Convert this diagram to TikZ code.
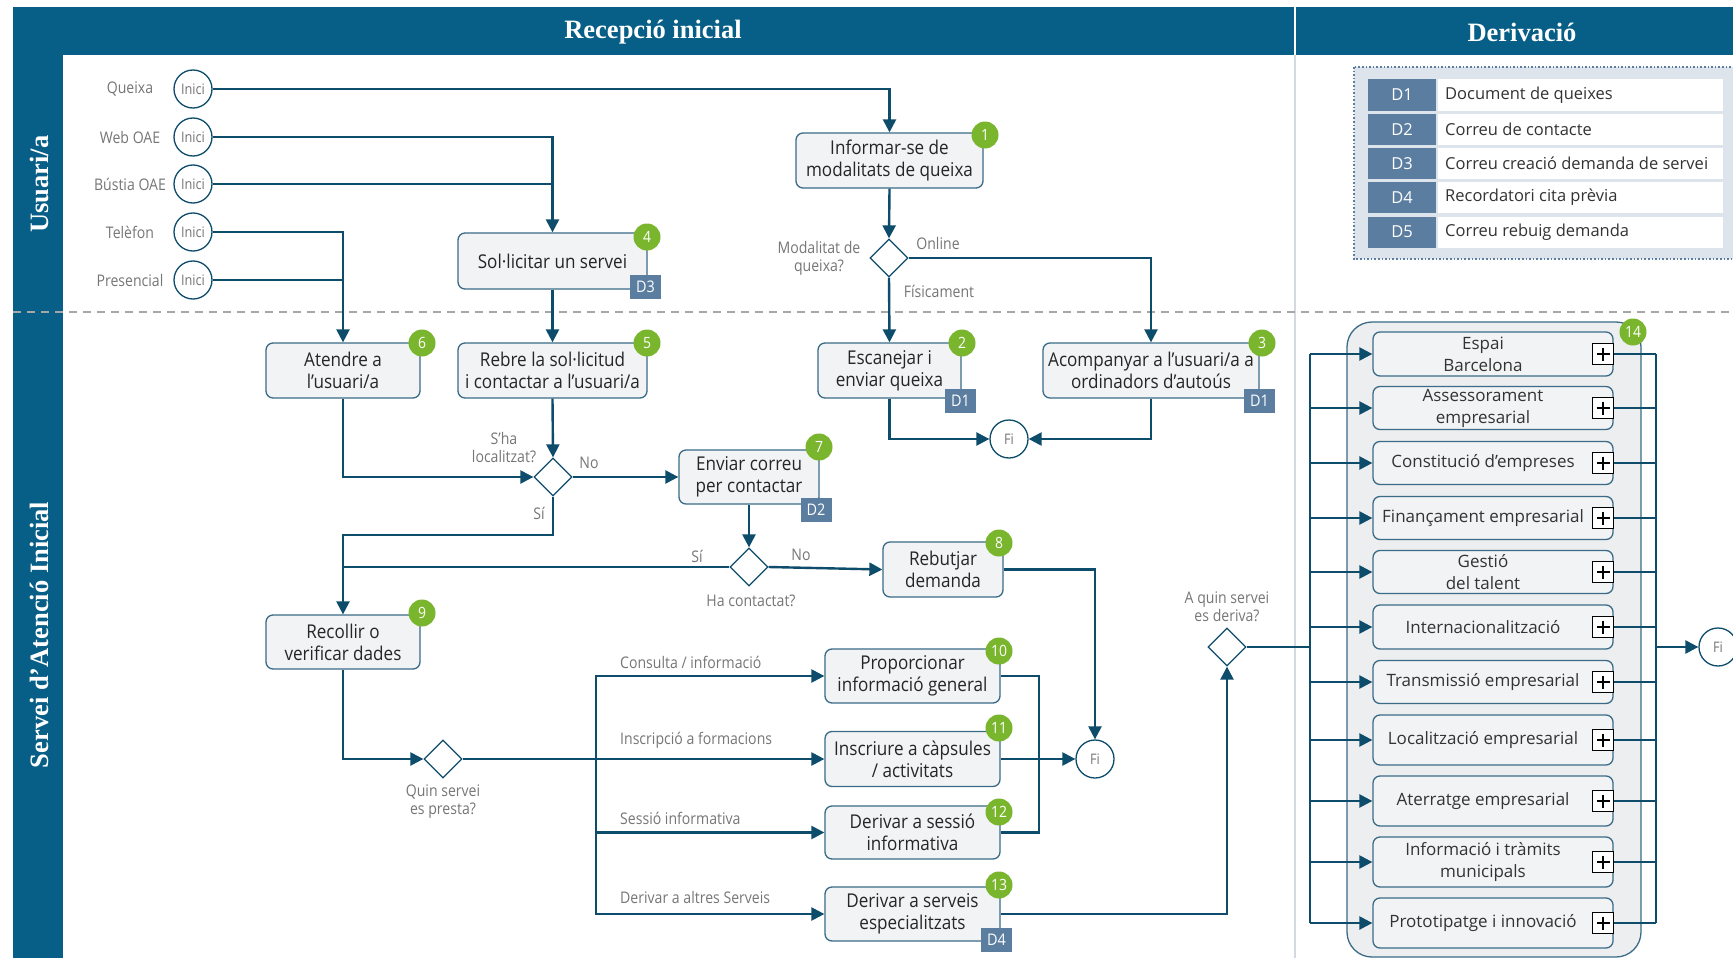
\documentclass[tikz,border=0pt]{standalone}
\usepackage{fontspec}
\setmainfont{Open Sans}
\newfontfamily\cfont[FakeStretch=0.9]{Open Sans}
\newfontfamily\lfont[FakeStretch=0.88]{Open Sans}
\newfontfamily\hfont{Liberation Serif}
\usetikzlibrary{shapes.geometric,arrows.meta,calc}
\definecolor{hdr}{HTML}{075E86}
\definecolor{ln}{HTML}{0D4C6B}
\definecolor{bxf}{HTML}{F2F3F4}
\definecolor{bxd}{HTML}{3A6B87}
\definecolor{grn}{HTML}{7AB52E}
\definecolor{dtag}{HTML}{5A7DA0}
\definecolor{lgd}{HTML}{DDE4EC}
\definecolor{gtx}{HTML}{767676}
\definecolor{grp}{HTML}{EDEEF0}
\definecolor{dv}{HTML}{D3D9DE}
\begin{document}
\begin{tikzpicture}[x=1pt,y=-1pt,
  task/.style={draw=bxd, fill=bxf, line width=1.3pt, rounded corners=7pt, align=center, inner sep=0pt, font=\cfont\fontsize{19}{22}\selectfont, text=black!85},
  sub/.style={draw=bxd, fill=bxf, line width=1.3pt, rounded corners=7pt, inner sep=0pt, minimum width=240pt},
  subtxt/.style={align=center, font=\fontsize{17}{22}\selectfont, text=black!80, inner sep=0pt},
  gate/.style={diamond, draw=ln, fill=white, line width=1.3pt, minimum width=38pt, minimum height=38pt, inner sep=0pt},
  ev/.style={circle, draw=ln, fill=white, line width=1.3pt, minimum size=38pt, inner sep=0pt, font=\lfont\fontsize{14.5}{16}\selectfont, text=gtx},
  badge/.style={circle, fill=grn, minimum size=27pt, inner sep=0pt, text=white, font=\cfont\fontsize{15.5}{15.5}\selectfont},
  dtg/.style={fill=dtag, minimum width=31pt, minimum height=24pt, inner sep=0pt, text=white, font=\cfont\fontsize{16}{16}\selectfont},
  lbl/.style={text=gtx, font=\lfont\fontsize{16}{18}\selectfont, inner sep=0pt, align=center},
  conn/.style={draw=ln, line width=2.4pt},
  arr/.style={conn, -{Triangle[length=13pt,width=13pt]}},
  hdrtxt/.style={text=white, font=\hfont\bfseries\fontsize{26.5}{26.5}\selectfont, inner sep=0pt},
  lgtxt/.style={anchor=west, text=black!80, font=\fontsize{16.5}{18}\selectfont, inner sep=0pt}
]
\fill[white] (0,0) rectangle (1733,958);
\useasboundingbox (0,0) rectangle (1733,958);
% frame
\fill[hdr] (13,7) rectangle (1733,55);
\fill[hdr] (13,7) rectangle (63,958);
\draw[white, line width=1.5pt] (1295,7) -- (1295,55);
\draw[dv, line width=1.5pt] (1295,55) -- (1295,958);
\draw[black!35, line width=1.5pt, dash pattern=on 8pt off 6pt] (13,312) -- (1733,312);
\node[hdrtxt] (h1) at (653,32) {Recepció inicial};
\node[hdrtxt] (h2) at (1522,32) {Derivació};
\node[hdrtxt, rotate=90] (l1) at (39,184) {Usuari/a};
\node[hdrtxt, rotate=90] (l2) at (39,635) {Servei d’Atenció Inicial};

% legend
\draw[dtag, fill=lgd, line width=1.6pt, dotted] (1354,67) rectangle (1750,259);
\foreach \i/\t/\y in {1/Document de queixes/95, 2/Correu de contacte/129.5, 3/Correu creació demanda de servei/163.5, 4/Recordatori cita prèvia/197.5, 5/Correu rebuig demanda/232}{
  \node[fill=dtag, minimum width=68pt, minimum height=31pt, inner sep=0pt, text=white, font=\fontsize{16.5}{18}\selectfont] (L\i) at (1402,\y) {D\i};
  \node[fill=white, minimum width=285pt, minimum height=31pt, inner sep=0pt, anchor=west] (T\i) at (1438,\y) {};
  \node[lgtxt] at (1445,\y) {\t};
}

% start events
\node[ev] (s1) at (193,89) {Inici};
\node[ev] (s2) at (193,137) {Inici};
\node[ev] (s3) at (193,184) {Inici};
\node[ev] (s4) at (193,232) {Inici};
\node[ev] (s5) at (193,280) {Inici};
\node[lbl] at (130,89) {Queixa};
\node[lbl] at (130,137) {Web OAE};
\node[lbl] at (130,184) {Bústia OAE};
\node[lbl] at (130,232) {Telèfon};
\node[lbl] at (130,280) {Presencial};

% tasks
\node[task, minimum width=187pt, minimum height=55pt] (b1) at (889.5,160.5) {Informar-se de\\modalitats de queixa};
\node[task, minimum width=189pt, minimum height=56pt] (b4) at (552.5,261) {Sol·licitar un servei};
\node[task, minimum width=154pt, minimum height=55pt] (b6) at (343,370.5) {Atendre a\\l’usuari/a};
\node[task, minimum width=189pt, minimum height=55pt] (b5) at (552.5,370.5) {Rebre la sol·licitud\\i contactar a l’usuari/a};
\node[task, minimum width=143pt, minimum height=55pt] (b2) at (889.5,370.5) {Escanejar i\\enviar queixa};
\node[task, minimum width=216pt, minimum height=55pt] (b3) at (1151,370.5) {Acompanyar a l’usuari/a a\\ordinadors d’autoús};
\node[task, minimum width=140pt, minimum height=54pt] (b7) at (749,477) {Enviar correu\\per contactar};
\node[task, minimum width=120pt, minimum height=55pt] (b8) at (943,569.5) {Rebutjar\\demanda};
\node[task, minimum width=154pt, minimum height=54pt] (b9) at (343,642) {Recollir o\\verificar dades};
\node[task, minimum width=175pt, minimum height=54pt] (b10) at (912.5,676) {Proporcionar\\informació general};
\node[task, minimum width=175pt, minimum height=55pt] (b11) at (912.5,759) {Inscriure a càpsules\\/ activitats};
\node[task, minimum width=175pt, minimum height=53pt] (b12) at (912.5,832.5) {Derivar a sessió\\informativa};
\node[task, minimum width=175pt, minimum height=54pt] (b13) at (912.5,914) {Derivar a serveis\\especialitzats};

% gateways
\node[gate] (d1) at (889,258) {};
\node[gate] (d2) at (553,477) {};
\node[gate] (d3) at (749,567) {};
\node[gate] (d4) at (443,759) {};
\node[gate] (d5) at (1227,647) {};

% end events
\node[ev] (f1) at (1009,439) {Fi};
\node[ev] (f2) at (1095,759) {Fi};
\node[ev] (f3) at (1718,647) {Fi};

% group 14
\draw[bxd, fill=grp, line width=1.3pt, rounded corners=25pt] (1347,322) rectangle (1641,957);
\foreach \n/\y/\h/\t in {g1/354/44/{Espai\\Barcelona}, g2/408/43/{Assessorament\\empresarial}, g3/463/43/{Constitució d’empreses}, g4/518/43/{Finançament empresarial}, g5/572/43/{Gestió\\del talent}, g6/627/44/{Internacionalització}, g7/682/43/{Transmissió empresarial}, g8/740/50/{Localització empresarial}, g9/801/50/{Aterratge empresarial}, g10/862/50/{Informació i tràmits\\municipals}, g11/923/50/{Prototipatge i innovació}}{
  \node[sub, minimum height=\h pt] (\n) at (1493,\y) {};
  \node[subtxt] at (1483,\y) {\t};
  \node[draw=black, line width=1.3pt, fill=white, minimum size=21pt, inner sep=0pt] (p\n) at ($(\n.east)+(-10.5,0)$) {};
  \draw[black, line width=2.6pt] ($(p\n.center)+(-6.5,0)$) -- ($(p\n.center)+(6.5,0)$);
  \draw[black, line width=2.6pt] ($(p\n.center)+(0,-6.5)$) -- ($(p\n.center)+(0,6.5)$);
}

% labels
\node[lbl] at (819,258.5) {Modalitat de\\queixa?};
\node[lbl] at (938,243) {Online};
\node[lbl] at (939,291) {Físicament};
\node[lbl] at (504,447.5) {S’ha\\localitzat?};
\node[lbl] at (589,463) {No};
\node[lbl] at (539,513) {Sí};
\node[lbl] at (697,556) {Sí};
\node[lbl] at (801,555) {No};
\node[lbl] at (751,601) {Ha contactat?};
\node[lbl] at (443,802) {Quin servei\\es presta?};
\node[lbl] at (1227,606.5) {A quin servei\\es deriva?};
\node[lbl, anchor=west] at (620,662) {Consulta / informació};
\node[lbl, anchor=west] at (620,740) {Inscripció a formacions};
\node[lbl, anchor=west] at (620,818) {Sessió informativa};
\node[lbl, anchor=west] at (620,897) {Derivar a altres Serveis};

% connectors
\draw[arr] (s1.east) -| (b1.north);
\draw[arr] (s2.east) -| (b4.north);
\draw[conn] (s3.east) -- (s3.east -| b4.north);
\draw[arr] (s4.east) -| (b6.north);
\draw[conn] (s5.east) -- (s5.east -| b6.north);
\draw[arr] (b1.south) -- (d1.north);
\draw[arr] (d1.east) -| (b3.north);
\draw[arr] (d1.south) -- (b2.north);
\draw[arr] (b4.south) -- (b5.north);
\draw[arr] (b2.south) |- (f1.west);
\draw[arr] (b3.south) |- (f1.east);
\draw[arr] (b5.south) -- (d2.north);
\draw[arr] (b6.south) |- (d2.west);
\draw[arr] (d2.east) -- (b7.west);
\coordinate (j1) at (553,535);
\draw[arr] (d2.south) -- (j1) -| (b9.north);
\draw[arr] (b7.south) -- (d3.north);
\draw[conn] (d3.west) -- (d3.west -| b9.north);
\draw[arr] (d3.east) -- (b8.west);
\draw[arr] (b8.east) -| (f2.north);
\draw[arr] (b9.south) |- (d4.west);
\coordinate (br) at (596,759);
\draw[arr] (d4.east) -- (b11.west);
\draw[arr] (br) |- (b10.west);
\draw[arr] (br) |- (b12.west);
\draw[arr] (br) |- (b13.west);
\coordinate (j2) at (1039,676);
\draw[conn] (b10.east) -- (j2) |- (b12.east);
\draw[arr] (b11.east) -- (f2.west);
\draw[arr] (b13.east) -| (d5.south);
\coordinate (lb) at (1310,647);
\coordinate (lbt) at (1310,354);
\coordinate (lbb) at (1310,923);
\draw[conn] (d5.east) -- (lb);
\draw[conn] (lbt) -- (lbb);
\coordinate (rb) at (1656,647);
\coordinate (rbt) at (1656,354);
\coordinate (rbb) at (1656,923);
\draw[conn] (rbt) -- (rbb);
\foreach \n in {g1,g2,g3,g4,g5,g6,g7,g8,g9,g10,g11}{
  \draw[arr] (\n.west -| lb) -- (\n.west);
  \draw[conn] (\n.east) -- (\n.east -| rb);
}
\draw[arr] (rb) -- (f3.west);

% doc tags
\node[dtg] (t3) at (645.5,287) {D3};
\node[dtg] (t1a) at (960.5,401) {D1};
\node[dtg] (t1b) at (1259.5,401) {D1};
\node[dtg] (t2) at (816,509.5) {D2};
\node[dtg] (t4) at (996.5,940) {D4};

% badges
\node[badge] (n1) at (985,135) {1};
\node[badge] (n2) at (962,343) {2};
\node[badge] (n3) at (1262,343) {3};
\node[badge] (n4) at (647,237) {4};
\node[badge] (n5) at (647,343) {5};
\node[badge] (n6) at (422,343) {6};
\node[badge] (n7) at (819,447) {7};
\node[badge] (n8) at (999,543) {8};
\node[badge] (n9) at (422,613) {9};
\node[badge] (n10) at (999,651) {10};
\node[badge] (n11) at (999,728) {11};
\node[badge] (n12) at (999,812) {12};
\node[badge] (n13) at (999,885) {13};
\node[badge] (n14) at (1633,332) {14};
\end{tikzpicture}
\end{document}
